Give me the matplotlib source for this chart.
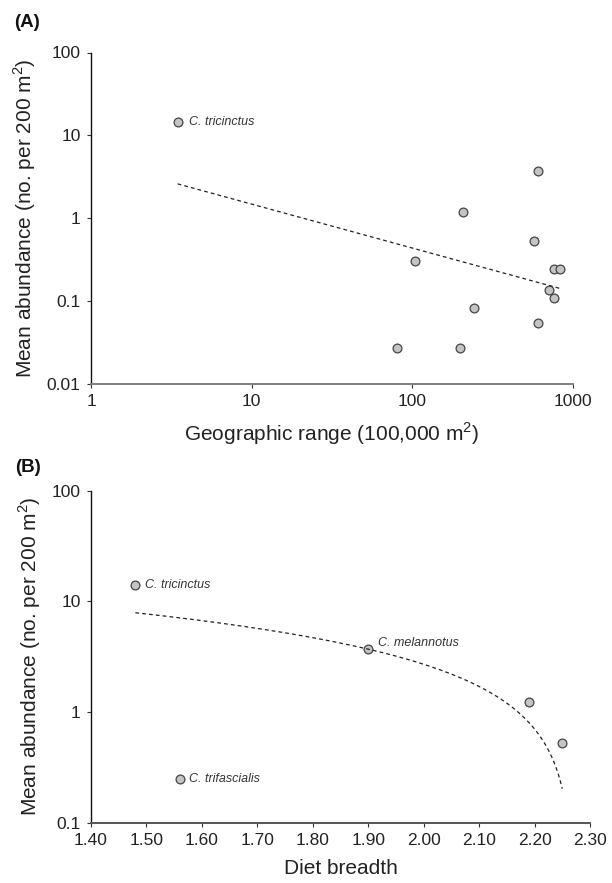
import numpy as np
import matplotlib
matplotlib.use("Agg")
import matplotlib.pyplot as plt

plt.rcParams['font.family'] = ['Liberation Sans', 'DejaVu Sans']

# ---------------- Data ----------------
# Panel A: geographic range vs mean abundance
range_a = [3.46, 602, 208, 569, 103.5, 762, 828, 711, 762, 242, 609, 80.4, 199]
abund_a = [14.4, 3.74, 1.2, 0.53, 0.306, 0.247, 0.247, 0.138, 0.11, 0.0815, 0.0548, 0.0272, 0.0272]
labels_a = {0: "C. tricinctus"}

# Panel B: diet breadth vs mean abundance
diet_b = [1.48, 1.56, 1.90, 2.19, 2.25]
abund_b = [14.0, 0.248, 3.70, 1.225, 0.525]
labels_b = {0: ("C. tricinctus", 0), 1: ("C. trifascialis", 0), 2: ("C. melannotus", 4.5)}

xticks_a = [1, 10, 100, 1000]
xticklabels_a = ["1", "10", "100", "1000"]
yticks_a = [0.01, 0.1, 1, 10, 100]
yticklabels_a = ["0.01", "0.1", "1", "10", "100"]

xticks_b = [1.40, 1.50, 1.60, 1.70, 1.80, 1.90, 2.00, 2.10, 2.20, 2.30]
xticklabels_b = ["1.40", "1.50", "1.60", "1.70", "1.80", "1.90", "2.00", "2.10", "2.20", "2.30"]
yticks_b = [0.1, 1, 10, 100]
yticklabels_b = ["0.1", "1", "10", "100"]

ylabel = r"Mean abundance (no. per 200 m$^{\mathregular{2}}$)"
xlabel_a = r"Geographic range (100,000 m$^{\mathregular{2}}$)"
xlabel_b = "Diet breadth"

# ---------------- Style ----------------
fill = "#c4c4c4"
edge = "#444444"
txt = "#222222"
tick_fs = 12.5
lab_fs = 15

fig = plt.figure(figsize=(6.12, 8.83), dpi=100)
axA = fig.add_axes([91/612, 1-384/883, (573-91)/612, (384-52.5)/883])
axB = fig.add_axes([91/612, 1-822.7/883, (590-91)/612, (822.7-490.7)/883])


def style(ax, bottom_color):
    for s in ["top", "right"]:
        ax.spines[s].set_visible(False)
    ax.spines["left"].set_color("#111111")
    ax.spines["left"].set_linewidth(1.0)
    ax.spines["bottom"].set_color(bottom_color)
    ax.spines["bottom"].set_linewidth(1.4)
    ax.tick_params(axis="both", which="major", direction="out", length=3,
                   width=0.8, colors="#333333", labelcolor=txt,
                   labelsize=tick_fs, pad=4.5)
    ax.tick_params(axis="both", which="minor", length=0)
    ax.set_facecolor("none")


# ---------------- Panel A ----------------
axA.set_xscale("log")
axA.set_yscale("log")
axA.set_xlim(1, 1000)
axA.set_ylim(0.01, 100)
axA.set_xticks(xticks_a)
axA.set_xticklabels(xticklabels_a)
axA.set_yticks(yticks_a)
axA.set_yticklabels(yticklabels_a)
axA.minorticks_off()
style(axA, "#808080")

# power-law trend line (least squares on logs)
lx = np.log10(range_a)
ly = np.log10(abund_a)
slope, inter = np.polyfit(lx, ly, 1)
xf = np.logspace(lx.min(), lx.max(), 100)
axA.scatter(range_a, abund_a, s=40, facecolor=fill, edgecolor=edge,
            linewidth=0.9, zorder=3, clip_on=False)
axA.plot(xf, 10**(inter + slope*np.log10(xf)), color="#222222", lw=0.9,
         dashes=(3, 2.5), zorder=4)
for i, name in labels_a.items():
    axA.annotate(name, (range_a[i], abund_a[i]), xytext=(8.5, 0),
                 textcoords="offset points", va="center", ha="left",
                 fontsize=9, style="italic", color="#333333")
axA.set_ylabel(ylabel, fontsize=lab_fs, color=txt, labelpad=6)
axA.set_xlabel(xlabel_a, fontsize=lab_fs, color=txt, labelpad=8)

# ---------------- Panel B ----------------
axB.set_yscale("log")
axB.set_xlim(1.40, 2.30)
axB.set_ylim(0.1, 100)
axB.set_xticks(xticks_b)
axB.set_xticklabels(xticklabels_b)
axB.set_yticks(yticks_b)
axB.set_yticklabels(yticklabels_b)
axB.minorticks_off()
style(axB, "#555555")

b1, b0 = np.polyfit(diet_b, abund_b, 1)
xb = np.linspace(min(diet_b), max(diet_b), 200)
axB.scatter(diet_b, abund_b, s=40, facecolor=fill, edgecolor=edge,
            linewidth=0.9, zorder=3, clip_on=False)
axB.plot(xb, b0 + b1*xb, color="#222222", lw=0.9, dashes=(3, 2.5), zorder=4)
for i, (name, dy) in labels_b.items():
    axB.annotate(name, (diet_b[i], abund_b[i]), xytext=(7, dy),
                 textcoords="offset points", va="center", ha="left",
                 fontsize=9, style="italic", color="#333333")
axB.set_ylabel(ylabel, fontsize=lab_fs, color=txt, labelpad=6)
axB.set_xlabel(xlabel_b, fontsize=lab_fs, color=txt, labelpad=8)

# Panel letters
fig.text(14/612, 1-22.5/883, "(A)", fontsize=13.5, fontweight="bold",
         va="center", ha="left", color="#111111")
fig.text(15/612, 1-467/883, "(B)", fontsize=13.5, fontweight="bold",
         va="center", ha="left", color="#111111")

fig.savefig("out.png", dpi=100)
